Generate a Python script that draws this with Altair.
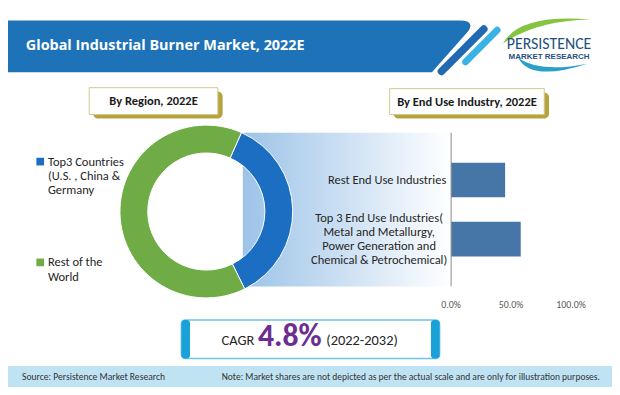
import math
import altair as alt
import pandas as pd

# ---------------- data ----------------
regions = ["Top3 Countries (U.S. , China & Germany", "Rest of the World"]
region_lines = [["Top3 Countries", "(U.S. , China &", "Germany"], ["Rest of the", "World"]]
region_shares = [36, 64]

industries = ["Rest End Use Industries", "Top 3 End Use Industries"]
industry_lines = [["Rest End Use Industries"],
                  ["Top 3 End Use Industries(", "Metal and Metallurgy,",
                   "Power Generation and", "Chemical & Petrochemical)"]]
industry_shares = [0.45, 0.58]
tick_values = [0.0, 0.5, 1.0]

cagr_value = 4.8
cagr_period = "2022-2032"

title = "Global Industrial Burner Market, 2022E"
region_header = "By Region, 2022E"
industry_header = "By End Use Industry, 2022E"
source_note = "Source: Persistence Market Research"
scale_note = ("Note: Market shares are not depicted as per the actual scale "
              "and are only for illustration purposes.")

# ---------------- layout helpers (reference px -> chart px) ----------------
W, H = 604, 379
S = 0.96
OX = (W - 620 * S) / 2


def X(r):
    return OX + S * r


def Y(r):
    return S * r


def F(sz):
    return sz * S


FONT = "Carlito, Liberation Sans, Arial, sans-serif"
BLUE_BANNER = "#1e72b8"
DONUT_COLORS = ["#1b6ec2", "#6fac46"]
BAR = "#4676a8"
BODY = 13

one = pd.DataFrame({"k": [0]})


def rect(x1, x2, y1, y2, **kw):
    return alt.Chart(one).mark_rect(**kw).encode(
        x=alt.value(X(x1)), x2=alt.value(X(x2)),
        y=alt.value(Y(y1)), y2=alt.value(Y(y2)))


def text(t, x, y, **kw):
    kw.setdefault("font", FONT)
    if "fontSize" in kw:
        kw["fontSize"] = F(kw["fontSize"])
    return alt.Chart(one).mark_text(**kw).encode(
        x=alt.value(X(x)), y=alt.value(Y(y)), text=alt.value(t))


def shape(path, filled=True, **kw):
    return alt.Chart(one).mark_point(
        shape=path, filled=filled, size=4 * S * S, opacity=1, **kw
    ).encode(x=alt.value(X(0)), y=alt.value(Y(0)))


layers = []

# footer
layers.append(alt.Chart(one).mark_rect(color="#c0e3f4").encode(
    x=alt.value(0), x2=alt.value(W), y=alt.value(Y(373)), y2=alt.value(H)))
layers.append(text(source_note, 10, 384, fontSize=10, align="left",
                   baseline="middle", color="#333333"))
layers.append(text(scale_note, 218, 384, fontSize=9.9, align="left",
                   baseline="middle", color="#333333"))

# header banner
layers.append(shape("M-12,13 L466,13 Q482,13 475,24 L437,67 L-12,67 Z",
                    color=BLUE_BANNER, strokeWidth=0))
layers.append(shape("M491,22 L447,66", filled=False, color="#2169b0",
                    strokeWidth=8 * S, strokeCap="round"))
layers.append(shape("M505,23 L472,56", filled=False, color="#38b2e5",
                    strokeWidth=7 * S, strokeCap="round"))
layers.append(text(title, 14, 40, fontSize=15, fontWeight="bold",
                   font="Open Sans, Liberation Sans, sans-serif",
                   align="left", baseline="middle", color="white"))

# logo
layers.append(shape("M511,37 Q528,6 602,12 Q546,13 511,37 Z",
                    color="#86c440", strokeWidth=0))
layers.append(shape("M527,52 Q540,77 599,58 Q550,68 527,52 Z",
                    color="#2a9fc9", strokeWidth=0))
layers.append(text("PERSISTENCE", 559, 37, fontSize=16.5,
                   align="center", baseline="middle", color="#25507e"))
layers.append(text("MARKET RESEARCH", 559, 51.5, fontSize=8.3, fontWeight="bold",
                   font="Liberation Sans, Arial, sans-serif",
                   align="center", baseline="middle", color="#25507e"))

# section header boxes
for (x1, x2, y1, y2, label) in [(80, 214, 83, 111, region_header),
                               (393, 554, 84, 111, industry_header)]:
    layers.append(rect(x1 + 4, x2 + 5, y1 + 4, y2 + 4, color="#b6a33f",
                       cornerRadius=5))
    layers.append(rect(x1, x2, y1, y2, fill="white", stroke="#d2cb8c",
                       strokeWidth=1))
    layers.append(text(label, (x1 + x2) / 2, (y1 + y2) / 2, fontSize=13,
                       fontWeight="bold", align="center", baseline="middle",
                       color="#1a1a1a"))

# gradient connector band
grad = alt.LinearGradient(
    gradient="linear",
    stops=[alt.GradientStop(color="#9dc3e8", offset=0),
           alt.GradientStop(color="#ffffff", offset=1)],
    x1=0, x2=1, y1=0, y2=0)
layers.append(rect(240, 457, 130, 290, fill=grad))

# donut
region_df = pd.DataFrame({"region": regions, "share": region_shares,
                          "idx": list(range(len(regions)))})
a0 = math.radians(24)
donut = alt.Chart(region_df).mark_arc(
    innerRadius=61 * S, outerRadius=90 * S, stroke="white", strokeWidth=1
).encode(
    theta=alt.Theta("share:Q", stack=True,
                    scale=alt.Scale(range=[a0, a0 + 2 * math.pi])),
    color=alt.Color("region:N", legend=None,
                    scale=alt.Scale(domain=regions, range=DONUT_COLORS)),
    order=alt.Order("idx:Q"),
    x=alt.value(X(202)), y=alt.value(Y(212)),
)
layers.append(donut)

# manual legend
legend_df = pd.DataFrame({"region": regions,
                          "label": ["\n".join(l) for l in region_lines]})
legend_y = [160, 265]
for i, reg in enumerate(regions):
    sub = alt.Chart(legend_df).transform_filter(alt.datum.region == reg)
    layers.append(sub.mark_square(size=(8 * S) ** 2, opacity=1).encode(
        x=alt.value(X(29)), y=alt.value(Y(legend_y[i])),
        color=alt.Color("region:N", legend=None,
                        scale=alt.Scale(domain=regions, range=DONUT_COLORS))))
    layers.append(sub.mark_text(align="left", baseline="middle", lineBreak="\n",
                                lineHeight=15 * S, font=FONT, fontSize=F(BODY),
                                color="#262626").encode(
        x=alt.value(X(37)), y=alt.value(Y(legend_y[i])), text="label:N"))

# bar chart
end_df = pd.DataFrame({"industry": industries, "share": industry_shares,
                       "label": ["\n".join(l) for l in industry_lines]})
ticks_df = pd.DataFrame({"t": tick_values})
xscale = alt.Scale(domain=[0, 1], range=[X(457), X(582)])
yscale = alt.Scale(domain=industries, range=[Y(130), Y(290)],
                   paddingInner=0.415, paddingOuter=0.508)

bars = alt.Chart(end_df).mark_bar(color=BAR).encode(
    x=alt.X("share:Q", scale=xscale, axis=None),
    y=alt.Y("industry:N", scale=yscale, axis=None))
axis_rule = alt.Chart(ticks_df).transform_filter(alt.datum.t == 0).mark_rule(
    color="#8c8c8c", strokeWidth=1).encode(
    x=alt.X("t:Q", scale=xscale, axis=None),
    y=alt.value(Y(130)), y2=alt.value(Y(290)))
tick_text = alt.Chart(ticks_df).mark_text(
    font=FONT, fontSize=F(10.3), color="#595959", baseline="middle").encode(
    x=alt.X("t:Q", scale=xscale, axis=None), y=alt.value(Y(309)),
    text=alt.Text("t:Q", format=".1%"))
lab_rest = alt.Chart(end_df).transform_filter(
    alt.datum.industry == industries[0]).mark_text(
    align="right", baseline="middle", lineBreak="\n", font=FONT,
    fontSize=F(BODY), color="#262626").encode(
    x=alt.value(X(452)), y=alt.Y("industry:N", scale=yscale, axis=None),
    text="label:N")
n_lines = len(industry_lines[1])
lab_top = alt.Chart(end_df).transform_filter(
    alt.datum.industry == industries[1]).mark_text(
    align="center", baseline="middle", lineBreak="\n", lineHeight=14.5 * S,
    dy=-(n_lines - 1) * 14.5 * S / 2,
    font=FONT, fontSize=F(BODY), color="#262626").encode(
    x=alt.value(X(382)), y=alt.Y("industry:N", scale=yscale, axis=None),
    text="label:N")
layers.append(alt.layer(bars, axis_rule, tick_text, lab_rest, lab_top))

# CAGR box
layers.append(rect(176, 445, 325, 365, fill="white", stroke="#6cc4e6",
                   strokeWidth=1.5, cornerRadius=4))
layers.append(rect(176, 185, 325, 365, color="#1aa2d8", cornerRadius=3))
layers.append(rect(436, 445, 325, 365, color="#1aa2d8", cornerRadius=3))
layers.append(text("CAGR", 252, 351, fontSize=15, align="right",
                   baseline="alphabetic", color="#262626"))
layers.append(text(f"{cagr_value}%", 289, 352, fontSize=33, fontWeight="bold",
                   align="center", baseline="alphabetic", color="#6c2d91"))
layers.append(text(f"({cagr_period})", 327, 351, fontSize=15, align="left",
                   baseline="alphabetic", color="#262626"))

chart = alt.layer(*layers).resolve_scale(
    x="independent", y="independent", theta="independent", color="independent"
).properties(
    width=W, height=H, padding=0, autosize=alt.AutoSizeParams(type="none"),
    background="white"
).configure_view(stroke=None)

chart.save("out.html", embed_options={"renderer": "svg", "actions": False})
